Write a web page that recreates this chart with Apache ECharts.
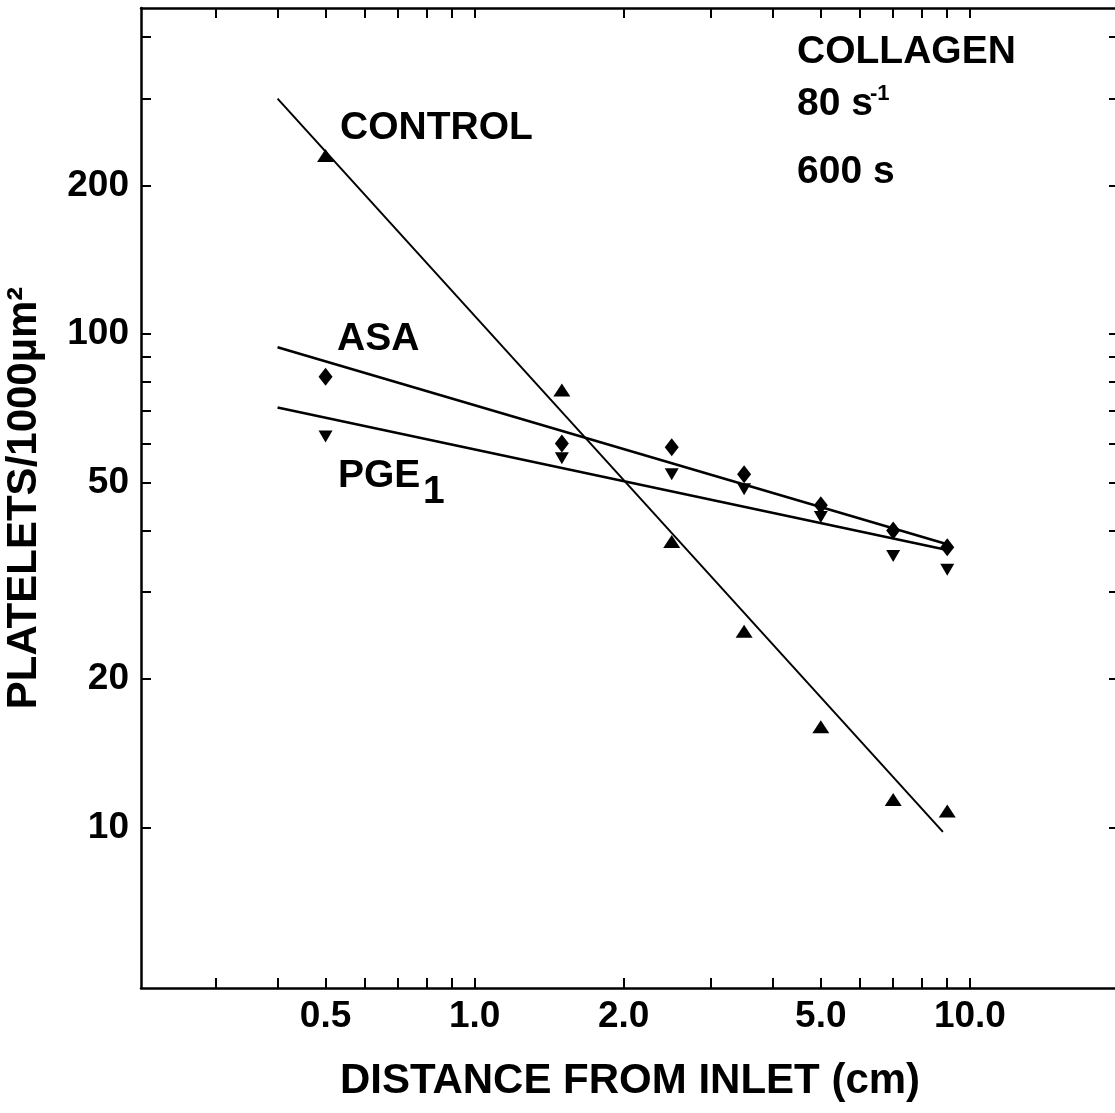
<!DOCTYPE html>
<html><head><meta charset="utf-8">
<script src="https://cdn.jsdelivr.net/npm/echarts@6/dist/echarts.min.js"></script>
<style>html,body{margin:0;padding:0;background:#fff}#c{width:1115px;height:1113px}</style>
</head><body><div id="c"></div>
<script>
// ---- data ----
const distance = [0.5, 1.5, 2.5, 3.5, 5, 7, 9];
const control  = [230, 77, 38, 25, 16, 11.4, 10.8];
const asa      = [82, 60, 59, 52, 45, 40, 37];
const pge1     = [62, 56, 52, 48.5, 42.6, 35.5, 33.3];
// fitted regression lines (end points)
const controlFitX = [0.40, 8.82], controlFitY = [300, 9.8];
const asaFitX     = [0.40, 9.0],  asaFitY     = [94, 37.5];
const pgeFitX     = [0.40, 9.0],  pgeFitY     = [71, 36.5];
// axes
const xTickValues  = [0.3, 0.4, 0.5, 0.6, 0.7, 0.8, 0.9, 1, 2, 3, 4, 5, 6, 7, 8, 9, 10];
const xLabelValues = [0.5, 1, 2, 5, 10];
const yTickValues  = [10, 20, 30, 40, 50, 60, 70, 80, 90, 100, 200, 300, 400];
const yLabelValues = [10, 20, 50, 100, 200];
const xRange = [0.212, 20];
const yRange = [4.73, 458];

const L = Math.log10;
const FONT = "'Liberation Sans', Arial, Helvetica, sans-serif";
const pts = (xs, ys) => xs.map((x, i) => [L(x), L(ys[i])]);

const chart = echarts.init(document.getElementById('c'), null, {renderer: 'canvas'});

const tickStyle = {show: true, inside: true, length: 10, lineStyle: {color: '#000', width: 2}};
const axisLine = {show: true, onZero: false, lineStyle: {color: '#000', width: 2.5}};

function xAxis(pos, labels) {
  return {
    type: 'value', position: pos, min: L(xRange[0]), max: L(xRange[1]),
    axisLine: axisLine, splitLine: {show: false},
    axisTick: Object.assign({customValues: xTickValues.map(L)}, tickStyle),
    axisLabel: labels ? {
      show: true, customValues: xLabelValues.map(L), margin: 10,
      color: '#000', fontSize: 37, fontWeight: 'bold', fontFamily: FONT,
      formatter: v => Number(Math.pow(10, v).toPrecision(3)).toFixed(1)
    } : {show: false},
    name: labels ? 'DISTANCE FROM INLET (cm)' : '',
    nameLocation: 'middle', nameGap: 72,
    nameTextStyle: {color: '#000', fontSize: 42, fontWeight: 'bold', fontFamily: FONT}
  };
}
function yAxis(pos, labels) {
  return {
    type: 'value', position: pos, min: L(yRange[0]), max: L(yRange[1]),
    axisLine: axisLine, splitLine: {show: false},
    axisTick: Object.assign({customValues: yTickValues.map(L)}, tickStyle),
    axisLabel: labels ? {
      show: true, customValues: yLabelValues.map(L), margin: 12,
      color: '#000', fontSize: 37, fontWeight: 'bold', fontFamily: FONT,
      formatter: v => String(Math.round(Math.pow(10, v)))
    } : {show: false},
    name: labels ? 'PLATELETS/1000\u00B5m\u00B2' : '',
    nameLocation: 'middle', nameGap: 96,
    nameTextStyle: {color: '#000', fontSize: 42, fontWeight: 'bold', fontFamily: FONT}
  };
}

function txt(x, y, text, size) {
  return {type: 'text', x: x, y: y, style: {text: text, fill: '#000', fontSize: size || 39,
    fontWeight: 'bold', fontFamily: FONT, align: 'left', verticalAlign: 'middle'}};
}

const mark = {color: '#000', opacity: 1};

chart.setOption({
  animation: false,
  backgroundColor: '#fff',
  grid: {left: 141, right: -4, top: 8, bottom: 125, containLabel: false, outerBoundsMode: 'none'},
  xAxis: [xAxis('bottom', true), xAxis('top', false)],
  yAxis: [yAxis('left', true), yAxis('right', false)],
  series: [
    {type: 'line', data: pts(controlFitX, controlFitY), symbol: 'none', lineStyle: {color: '#000', width: 2}, z: 2},
    {type: 'line', data: pts(asaFitX, asaFitY), symbol: 'none', lineStyle: {color: '#000', width: 2.6}, z: 2},
    {type: 'line', data: pts(pgeFitX, pgeFitY), symbol: 'none', lineStyle: {color: '#000', width: 2.6}, z: 2},
    {name: 'CONTROL', type: 'scatter', data: pts(distance, control), symbol: 'triangle',
     symbolSize: [17, 13], itemStyle: mark, z: 3},
    {name: 'ASA', type: 'scatter', data: pts(distance, asa), symbol: 'diamond',
     symbolSize: [14, 18], itemStyle: mark, z: 3},
    {name: 'PGE1', type: 'scatter', data: pts(distance, pge1), symbol: 'triangle', symbolRotate: 180,
     symbolSize: [14, 12], itemStyle: mark, z: 3}
  ],
  graphic: [
    txt(340, 128, 'CONTROL'),
    txt(337, 339, 'ASA'),
    txt(338, 476, 'PGE'),
    txt(423, 492, '1'),
    txt(797, 52, 'COLLAGEN'),
    txt(797, 104, '80 s'),
    txt(870, 94, '-1', 22),
    txt(797, 172, '600 s')
  ]
});
</script></body></html>
